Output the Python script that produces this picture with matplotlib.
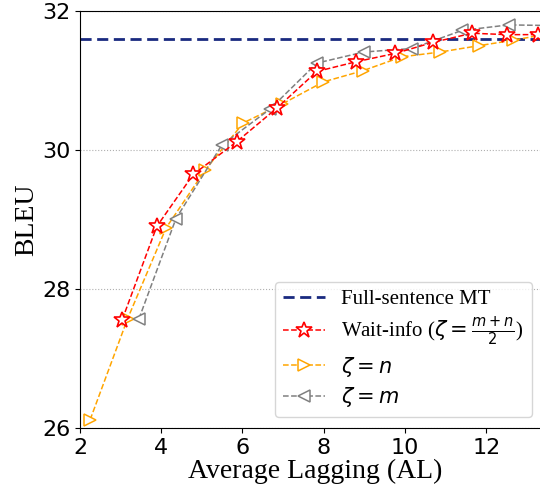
import matplotlib
matplotlib.use("Agg")
import matplotlib.pyplot as plt

full_bleu = 31.59

wait_info_al = [3.04, 3.89, 4.79, 5.86, 6.84, 7.83, 8.80, 9.76, 10.70, 11.65, 12.51, 13.28]
wait_info_bleu = [27.56, 28.90, 29.65, 30.12, 30.60, 31.13, 31.27, 31.39, 31.55, 31.68, 31.66, 31.66]

zeta_n_al = [2.25, 3.17, 4.12, 5.08, 6.02, 6.97, 7.99, 8.96, 9.92, 10.87, 11.81, 12.67, 13.6]
zeta_n_bleu = [26.12, 27.57, 28.88, 29.71, 30.39, 30.66, 30.98, 31.14, 31.34, 31.41, 31.50, 31.58, 31.68]

zeta_m_al = [3.45, 4.36, 5.49, 6.68, 7.83, 8.99, 10.17, 11.40, 12.55, 13.7]
zeta_m_bleu = [27.57, 29.01, 30.07, 30.59, 31.25, 31.41, 31.46, 31.72, 31.80, 31.79]

xticks = [2, 4, 6, 8, 10, 12]
yticks = [26, 28, 30, 32]

serif = ["Liberation Serif", "DejaVu Serif"]

fig = plt.figure(figsize=(5.4, 4.9), dpi=100)
ax = fig.add_axes([80 / 540, 62 / 490, 470 / 540, 417 / 490])

ax.axhline(full_bleu, color="#1a2a80", ls="--", lw=2, dashes=(4, 2),
           label="Full-sentence MT", zorder=2)
ax.plot(wait_info_al, wait_info_bleu, "--", color="red", lw=1.1,
        marker="*", ms=12, mfc="white", mec="red", mew=1.2,
        label=r"Wait-info ($\zeta=\frac{m+n}{2}$)", zorder=4)
ax.plot(zeta_n_al, zeta_n_bleu, "--", color="orange", lw=1.1,
        marker=">", ms=8, mfc="white", mec="orange", mew=1.1,
        label=r"$\zeta=n$", zorder=3)
ax.plot(zeta_m_al, zeta_m_bleu, "--", color="gray", lw=1.1,
        marker="<", ms=8, mfc="white", mec="gray", mew=1.1,
        label=r"$\zeta=m$", zorder=3)

ax.set_xlim(2, 13.57)
ax.set_ylim(26, 32)
ax.set_xticks(xticks)
ax.set_yticks(yticks)
ax.tick_params(labelsize=16)
ax.yaxis.grid(True, ls=":", color="#b0b0b0", lw=0.8)
ax.spines["right"].set_visible(False)

ax.set_xlabel("Average Lagging (AL)", fontsize=20, family=serif, labelpad=1)
ax.set_ylabel("BLEU", fontsize=20, family=serif, labelpad=2)

leg = ax.legend(loc="lower right", bbox_to_anchor=(0.962, 0.026),
                borderaxespad=0,
                prop={"family": serif, "size": 15},
                handlelength=2.0, labelspacing=0.3, borderpad=0.4)

fig.savefig("out.png", dpi=100)
